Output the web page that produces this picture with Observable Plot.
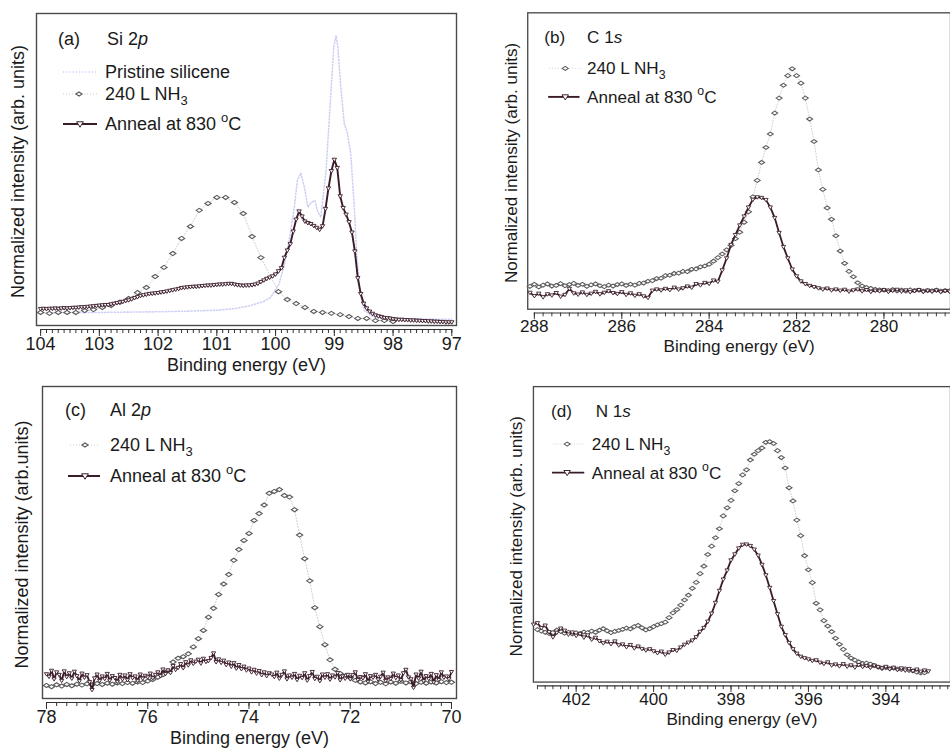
<!DOCTYPE html>
<html><head><meta charset="utf-8">
<script src="https://cdn.jsdelivr.net/npm/d3@7"></script>
<script src="https://cdn.jsdelivr.net/npm/@observablehq/plot@0.6"></script>
<style>
html,body{margin:0;padding:0;background:#fff;overflow:hidden;}
#root{position:relative;width:950px;height:755px;overflow:hidden;background:#fff;}
.panel{position:absolute;}
</style></head><body><div id="root"></div>
<script>
// ---------- DATA ----------
// (a) Si 2p
const siTicks = [104, 103, 102, 101, 100, 99, 98, 97];
const siPristineE = [104.0,103.5,103.0,102.5,102.0,101.5,101.0,100.7,100.42,100.2,100.08,99.94,99.86,99.77,99.68,99.63,99.57,99.51,99.45,99.39,99.33,99.29,99.23,99.14,99.07,99.01,98.97,98.94,98.89,98.83,98.78,98.72,98.66,98.62,98.56,98.49,98.33,98.0,97.5,97.0];
const siPristineV = [5.0,5.0,5.1,5.2,5.3,5.5,5.8,6.3,7.3,8.6,9.9,14.2,19.5,27.9,38.5,47,49.3,44.9,38.5,40.1,40.6,37.5,35.3,50.2,71.3,89.3,93,89.3,76.6,65,62.3,55.5,38.5,23.7,11,5.7,3.6,3.2,3.0,2.9];
const siNh3E = [104.0,103.85,103.7,103.55,103.4,103.25,103.1,102.95,102.8,102.65,102.5,102.35,102.2,102.05,101.9,101.75,101.6,101.45,101.3,101.15,101.0,100.85,100.7,100.55,100.4,100.25,99.95,99.8,99.65,99.5,99.35,99.2,99.05,98.9,98.75,98.6,98.45,98.3,98.15,98.0];
const siNh3V = [5.1,4.8,5.1,5.1,5.1,5.7,6.0,6.7,7.3,8.3, 9.5,11.4,13.0,16.5,19.4,23.8,28.6,32.4,37.5,39.7, 41.6,41.6,40.0,36.5,29.2,22.5,11.7,9.2,7.9,6.7, 5.4,5.1,4.8,4.4,3.8,3.2,3.2,2.5,2.5,2.2];
const siAnnealStart = 104.0, siAnnealStep = 0.05;
const siAnnealV = [
 6.2,6.3,6.2,6.3,6.3,6.4,6.3,6.4,6.5,6.4,
 6.5,6.6,6.6,6.7,6.8,6.8,6.9,7.0,7.1,7.2,
 7.3,7.4,7.5,7.5,7.7,7.9,8.1,8.3,8.5,8.8,
 9.0,9.3,9.7,10.0,10.4,10.6,10.8,11.0,11.1,11.2,
 11.3,11.5,11.6,11.8,12.0,12.2,12.4,12.6,12.9,13.0,
 13.1,13.2,13.3,13.3,13.4,13.5,13.6,13.7,13.7,13.8,
 13.9,14.0,14.0,14.1,14.2,14.2,14.0,13.8,13.7,13.6,
 13.7,13.7,13.8,14.0,14.3,14.8,15.3,15.8,16.2,16.6,
 17.2,18.2,19.2,22.5,24.8,26.8,30.8,34.6,37.2,35.6,
 34.0,33.5,33.2,32.6,32.0,31.4,32.5,38.0,44.5,50.0,
 53.6,51.0,42.0,38.3,36.2,33.8,30.5,24.5,16.0,11.0,
 7.9,6.4,5.4,4.7,4.2,3.9,3.7,3.4,3.3,3.2,
 3.0,2.9,2.8,2.8,2.7,2.7,2.6,2.6,2.5,2.5,
 2.4,2.4,2.3,2.3,2.2,2.2,2.1,2.1,2.0,2.0,
 2.0];

// (b) C 1s
const cTicks = [288, 286, 284, 282, 280];
const cNh3Start = 288.1, cNh3Step = 0.1;
const cNh3V = [
 8.6,9.3,8.4,9.0,9.4,8.7,8.9,9.5,8.8,9.2,
 9.6,8.9,9.3,8.6,9.1,9.4,8.8,8.5,9.0,8.7,
 9.2,9.4,8.9,9.3,9.0,9.6,9.7,10.3,10.5,11.2,
 11.3,12.2,12.3,12.9,13.0,13.6,13.5,14.3,14.4,15.1,
 15.4,16.0,17.0,18.2,19.4,20.8,22.3,24.5,26.7,30.0,
 33.5,38.5,44.0,50.0,55.0,59.5,66.5,71.5,75.8,79.0,
 81.3,79.0,76.5,71.5,64.5,57.0,47.5,41.0,34.8,31.0,
 25.5,20.4,16.3,13.6,11.8,9.8,8.7,8.2,7.9,7.6,
 7.4,7.3,7.2,7.5,7.1,7.3,7.0,7.4,7.2,7.3,
 7.0,7.2,7.1,7.3,7.0,7.2,7.1];
const cAnnealStart = 288.1, cAnnealStep = 0.1;
const cAnnealV = [
 6.5,5.4,6.2,5.0,6.0,5.6,6.4,5.2,5.8,7.8,
 6.3,5.9,6.6,5.8,6.2,6.8,6.0,6.5,7.0,6.4,
 6.1,6.7,5.8,6.3,5.5,6.0,5.3,4.8,7.2,7.6,
 7.3,7.8,7.4,8.2,7.6,8.0,8.6,8.2,9.4,9.0,
 9.8,9.5,10.6,10.2,14.0,18.0,22.5,25.8,29.0,32.0,
 35.0,37.6,38.4,38.2,37.5,35.0,31.5,26.5,21.8,18.0,
 14.3,12.0,10.3,9.4,8.8,8.4,8.0,7.6,7.9,7.3,
 7.6,7.2,7.5,6.9,7.3,7.6,7.0,7.4,6.8,7.2,
 7.0,7.4,6.8,7.2,7.5,6.9,7.3,6.7,7.1,7.4,
 6.8,7.2,6.9,7.3,6.7,7.1,6.9];

// (c) Al 2p
const alTicks = [78, 76, 74, 72, 70];
const alNh3Start = 78.0, alNh3Step = 0.1;
const alNh3V = [
 5.4,5.0,5.6,5.2,5.7,5.3,5.8,5.5,5.9,5.6,
 6.0,5.7,6.1,5.8,6.2,6.0,6.3,6.1,6.5,6.3,
 6.8,7.3,8.0,8.8,10.0,12.8,14.0,14.5,15.4,17.6,
 20.2,22.8,27.0,29.8,34.2,37.5,40.5,45.0,48.4,51.3,
 53.5,57.6,59.8,62.5,66.2,66.8,67.4,65.5,65.0,61.0,
 53.0,45.5,38.5,30.0,24.0,18.3,13.5,10.5,9.2,8.4,
 7.8,7.0,6.5,6.2,6.6,6.0,6.4,5.9,6.5,6.1,
 6.7,6.2,6.6,6.0,6.4,6.1,6.5,6.2,6.6,6.3,
 6.4];
const alAnnealStart = 78.0, alAnnealStep = 0.05;
const alAnnealV = [
 9.0,8.2,10.1,7.4,9.6,8.8,6.9,9.9,8.1,9.3,
 7.6,9.8,8.4,6.8,9.2,7.9,8.7,6.5,4.0,7.7,
 8.9,6.9,8.3,7.5,9.1,7.0,8.4,7.8,6.6,8.8,
 7.4,8.6,7.1,9.0,7.8,8.3,6.9,8.9,7.6,8.5,
 8.0,9.2,7.7,8.8,9.6,8.4,10.5,9.1,10.2,9.4,
 11.6,10.4,11.0,12.2,10.9,12.8,11.8,13.4,12.3,13.0,
 13.6,12.4,13.9,12.9,13.2,14.1,15.6,12.8,13.7,12.6,
 13.3,11.9,12.7,11.4,12.5,10.8,11.9,10.6,11.4,10.2,
 10.8,9.6,10.4,9.2,10.0,8.7,9.6,8.4,9.3,8.9,
 8.1,9.5,7.6,8.8,9.9,7.4,8.6,7.9,9.1,7.2,
 8.5,7.8,9.3,7.0,8.4,9.7,7.5,8.2,6.8,8.9,
 7.9,9.0,7.3,8.6,8.0,9.4,7.1,8.3,7.6,8.8,
 7.4,8.7,9.6,7.2,8.1,7.7,9.0,6.6,8.4,7.9,
 8.8,7.3,8.2,9.5,6.9,8.0,7.5,9.2,7.8,8.6,
 7.1,9.3,10.4,8.0,7.4,4.7,8.9,7.6,9.8,6.8,
 8.4,7.5,9.1,6.4,8.7,7.2,9.6,7.9,8.3,7.4,
 9.7];

// (d) N 1s
const nTicks = [402, 400, 398, 396, 394];
const nNh3Start = 403.0, nNh3Step = 0.1;
const nNh3V = [
 18.8,18.3,17.9,17.5,17.8,18.6,18.2,17.6,17.9,17.4,
 17.7,17.5,18.0,17.8,18.3,17.9,18.6,19.1,18.4,17.8,
 18.2,18.5,18.9,19.3,19.0,19.8,20.2,19.4,18.7,19.1,
 19.8,20.4,20.8,21.3,22.8,24.4,25.5,27.0,28.7,30.3,
 32.6,34.6,37.5,40.0,43.9,46.7,49.5,52.5,56.8,59.5,
 62.0,65.2,67.6,70.5,72.2,75.5,77.4,78.6,79.5,81.4,
 81.6,81.0,78.6,76.3,72.8,66.2,61.8,55.4,50.2,43.5,
 38.8,34.5,27.6,25.4,21.8,20.0,18.1,15.9,13.9,12.2,
 10.4,9.3,8.6,8.0,7.5,7.6,7.3,6.8,6.3,5.9,
 6.1,5.8,5.9,5.6,5.5,5.7,5.2,5.0,4.6,4.3,
 4.4];
const nAnnealStart = 403.1, nAnnealStep = 0.1;
const nAnnealV = [
 20.5,21.0,19.4,20.2,18.0,16.3,17.8,19.2,18.5,17.2,
 17.9,16.8,17.4,16.2,16.9,15.5,16.1,15.0,14.3,14.8,
 14.0,14.9,13.6,13.9,13.0,13.7,12.6,13.2,12.4,11.9,
 12.3,11.6,11.0,11.5,10.5,11.2,12.0,11.8,12.9,13.8,
 14.5,15.2,16.3,18.1,19.4,21.5,24.2,27.8,31.8,35.6,
 38.6,42.0,44.0,46.0,47.2,47.3,46.8,45.6,43.6,40.5,
 37.0,32.8,28.4,24.0,19.8,17.0,14.4,12.3,10.8,9.8,
 9.3,8.9,8.4,8.6,7.8,7.4,7.9,6.9,7.2,6.6,
 7.3,6.5,6.9,6.2,7.0,6.4,6.7,6.1,6.8,6.3,
 5.9,6.4,5.6,6.1,5.4,5.9,5.2,5.7,5.0,5.5,
 4.8,5.2,4.9];

const seriesNames = ["Pristine silicene", "240 L NH3", "Anneal at 830 °C"];

// ---------- HELPERS ----------
const FONT = "'Liberation Sans', Arial, Helvetica, sans-serif";
const ANNEAL = "#3a1b29";
const NH3C = "#5a5a5a";
const PRIST = "#cfd0f5";
const pairs = (E, V) => V.map((v, i) => ({E: E[i], v}));
const onGrid = (start, step, V) => V.map((v, i) => ({E: Math.round((start - i * step) * 1000) / 1000, v}));
const tickRange = (a, b, s) => { const out = []; for (let t = a; t <= b + 1e-9; t += s) out.push(Math.round(t * 100) / 100); return out; };

const wideDiamond = { draw(ctx, size) { const r = Math.sqrt(size / Math.PI);
  ctx.moveTo(-r * 1.2, 0); ctx.lineTo(0, -r * 0.8); ctx.lineTo(r * 1.2, 0); ctx.lineTo(0, r * 0.8); ctx.closePath(); } };
const downTri = { draw(ctx, size) { const r = Math.sqrt(size / Math.PI);
  ctx.moveTo(-r, -r * 0.65); ctx.lineTo(r, -r * 0.65); ctx.lineTo(0, r * 0.95); ctx.closePath(); } };

function makePanel(cfg) {
  const plotH = cfg.height - cfg.mt - cfg.mb;
  const marks = [Plot.frame({stroke: "#4a4a4a", strokeWidth: 1.4, insetBottom: 4})];
  if (cfg.pristine) marks.push(Plot.line(cfg.pristine, {x: "E", y: "v", stroke: PRIST, strokeWidth: 1.6, strokeDasharray: "1.2,2"}));
  marks.push(
    Plot.line(cfg.nh3, {x: "E", y: "v", stroke: "#cccccc", strokeWidth: 1, strokeDasharray: "1,2"}),
    Plot.dot(cfg.nh3, {x: "E", y: "v", symbol: wideDiamond, r: 2.6, stroke: NH3C, strokeWidth: 1.1, fill: "white"}),
    Plot.line(cfg.anneal, {x: "E", y: "v", stroke: ANNEAL, strokeWidth: 1.9}),
    Plot.dot(cfg.anneal, {x: "E", y: "v", symbol: downTri, r: cfg.triR || 2.3, stroke: ANNEAL, strokeWidth: 0.9, fill: "white"}),
    Plot.ruleY([{y: cfg.yDomain[0], x1: cfg.axisFrom, x2: cfg.axisTo}], {y: "y", x1: "x1", x2: "x2", stroke: "#333", strokeWidth: 1.2}),
    Plot.ruleX(cfg.minors, {x: d => d, insetTop: plotH, insetBottom: -4, stroke: "#333", strokeWidth: 1}),
    Plot.ruleX(cfg.majors, {x: d => d, insetTop: plotH, insetBottom: -7, stroke: "#333", strokeWidth: 1}),
    Plot.text(cfg.majors, {x: d => d, text: d => String(d), frameAnchor: "bottom", dy: 20, fontSize: 18, fill: "#1a1a1a"}),
    Plot.text([cfg.xTitle], {text: d => d, frameAnchor: "bottom", dy: 41, fontSize: 18, fill: "#1a1a1a"}),
    Plot.text([cfg.yTitle], {text: d => d, frameAnchor: "left", textAnchor: "middle", dx: cfg.yDx, rotate: -90, fontSize: 18, fill: "#1a1a1a"})
  );
  const svg = Plot.plot({
    width: cfg.width, height: cfg.height,
    marginLeft: cfg.ml, marginRight: cfg.mr, marginTop: cfg.mt, marginBottom: cfg.mb,
    x: {domain: cfg.xDomain, label: null, axis: null},
    y: {domain: cfg.yDomain, axis: null, label: null},
    style: {fontFamily: FONT, fontSize: "18px", color: "#1a1a1a", background: "transparent", overflow: "visible"},
    marks
  });
  const wrap = document.createElement("div");
  wrap.className = "panel";
  wrap.style.left = cfg.left + "px"; wrap.style.top = cfg.top + "px";
  wrap.appendChild(svg);
  document.getElementById("root").appendChild(wrap);

  // panel label + legend (annotation)
  const g = d3.select(svg).append("g").attr("transform", `translate(${cfg.ml},${cfg.mt})`)
    .style("font-family", FONT).style("font-size", "18px").attr("fill", "#1a1a1a").attr("text-anchor", "start");
  const L = cfg.leg;
  g.append("text").attr("text-anchor", "start").attr("x", L.tagX).attr("y", L.tagY + 6.4).text(cfg.tag);
  const t = g.append("text").attr("text-anchor", "start").attr("x", L.elX).attr("y", L.tagY + 6.4);
  t.append("tspan").text(cfg.element[0]);
  t.append("tspan").attr("font-style", "italic").text(cfg.element[1]);
  cfg.entries.forEach(e => {
    if (e.kind === "pristine") {
      g.append("line").attr("x1", e.l1).attr("x2", e.l2).attr("y1", e.y).attr("y2", e.y)
        .attr("stroke", PRIST).attr("stroke-width", 1.6).attr("stroke-dasharray", "1.2,2");
    } else if (e.kind === "nh3") {
      g.append("line").attr("x1", e.l1).attr("x2", e.l2).attr("y1", e.y).attr("y2", e.y)
        .attr("stroke", "#cccccc").attr("stroke-width", 1).attr("stroke-dasharray", "1,2");
      g.append("path").attr("d", d3.symbol(wideDiamond, Math.PI * 2.6 * 2.6)())
        .attr("transform", `translate(${e.sx},${e.y})`).attr("fill", "white").attr("stroke", NH3C).attr("stroke-width", 1.1);
    } else {
      g.append("line").attr("x1", e.l1).attr("x2", e.l2).attr("y1", e.y).attr("y2", e.y)
        .attr("stroke", ANNEAL).attr("stroke-width", 2);
      g.append("path").attr("d", d3.symbol(downTri, Math.PI * 3.4 * 3.4)())
        .attr("transform", `translate(${e.sx},${e.y})`).attr("fill", "white").attr("stroke", ANNEAL).attr("stroke-width", 1);
    }
    const tx = g.append("text").attr("text-anchor", "start").attr("x", e.tx).attr("y", e.y + 6.4);
    if (e.kind === "pristine") tx.text(seriesNames[0]);
    else if (e.kind === "nh3") {
      tx.append("tspan").text("240 L NH");
      tx.append("tspan").attr("font-size", "13px").attr("dy", 5).text("3");
    } else {
      tx.append("tspan").text("Anneal at 830 ");
      tx.append("tspan").attr("font-size", "13px").attr("dy", -8).text("o");
      tx.append("tspan").attr("dy", 8).text("C");
    }
  });
}

const xTitle = "Binding energy (eV)";

// (a)
makePanel({
  left: 0, top: 0, width: 475, height: 380, ml: 36, mr: 19, mt: 13, mb: 51,
  xDomain: [104.07, 96.92], yDomain: [-0.32, 100],
  majors: siTicks, minors: tickRange(97, 104, 0.1), axisFrom: 104, axisTo: 97,
  pristine: pairs(siPristineE, siPristineV), nh3: pairs(siNh3E, siNh3V),
  anneal: onGrid(siAnnealStart, siAnnealStep, siAnnealV), triR: 2.2,
  xTitle, yTitle: "Normalized intensity (arb. units)", yDx: -18,
  tag: "(a)", element: ["Si 2", "p"],
  leg: {tagX: 22, tagY: 26, elX: 71},
  entries: [
    {kind: "pristine", l1: 27, l2: 61, y: 59, tx: 69},
    {kind: "nh3", l1: 27, l2: 61, sx: 43, y: 81, tx: 69},
    {kind: "anneal", l1: 27, l2: 61, sx: 44, y: 111, tx: 69}
  ]
});

// (b)
makePanel({
  left: 475, top: 0, width: 500, height: 380, ml: 55, mr: 0, mt: 13, mb: 51,
  xDomain: [288.152, 278.478], yDomain: [-0.32, 100],
  majors: cTicks, minors: tickRange(278.6, 288, 0.2), axisFrom: 288, axisTo: 278.478,
  nh3: onGrid(cNh3Start, cNh3Step, cNh3V),
  anneal: onGrid(cAnnealStart, cAnnealStep, cAnnealV),
  xTitle, yTitle: "Normalized intensity (arb. units)", yDx: -17,
  tag: "(b)", element: ["C 1", "s"],
  leg: {tagX: 18, tagY: 26, elX: 63},
  entries: [
    {kind: "nh3", l1: 23, l2: 57, sx: 40, y: 59, tx: 63},
    {kind: "anneal", l1: 22, l2: 55, sx: 40, y: 89, tx: 63}
  ]
});

// (c)
makePanel({
  left: 0, top: 370, width: 475, height: 385, ml: 42, mr: 19, mt: 16, mb: 53,
  xDomain: [78.079, 69.901], yDomain: [0, 100],
  majors: alTicks, minors: tickRange(70, 78, 0.2), axisFrom: 78, axisTo: 70,
  nh3: onGrid(alNh3Start, alNh3Step, alNh3V),
  anneal: onGrid(alAnnealStart, alAnnealStep, alAnnealV), triR: 2.1,
  xTitle, yTitle: "Normalized intensity (arb.units)", yDx: -20,
  tag: "(c)", element: ["Al 2", "p"],
  leg: {tagX: 23, tagY: 24, elX: 68},
  entries: [
    {kind: "nh3", l1: 28, l2: 58, sx: 43, y: 59, tx: 68},
    {kind: "anneal", l1: 26, l2: 58, sx: 43, y: 90, tx: 68}
  ]
});

// (d)
makePanel({
  left: 475, top: 370, width: 500, height: 385, ml: 61, mr: 0, mt: 17, mb: 53,
  xDomain: [403.104, 392.331], yDomain: [0, 100],
  majors: nTicks, minors: tickRange(392.4, 403, 0.2), axisFrom: 403, axisTo: 392.331,
  nh3: onGrid(nNh3Start, nNh3Step, nNh3V),
  anneal: onGrid(nAnnealStart, nAnnealStep, nAnnealV),
  xTitle, yTitle: "Normalized intensity (arb. units)", yDx: -18,
  tag: "(d)", element: ["N 1", "s"],
  leg: {tagX: 19, tagY: 26, elX: 66},
  entries: [
    {kind: "nh3", l1: 22, l2: 54, sx: 36, y: 61, tx: 62},
    {kind: "anneal", l1: 20, l2: 54, sx: 36, y: 91, tx: 62}
  ]
});
</script></body></html>
